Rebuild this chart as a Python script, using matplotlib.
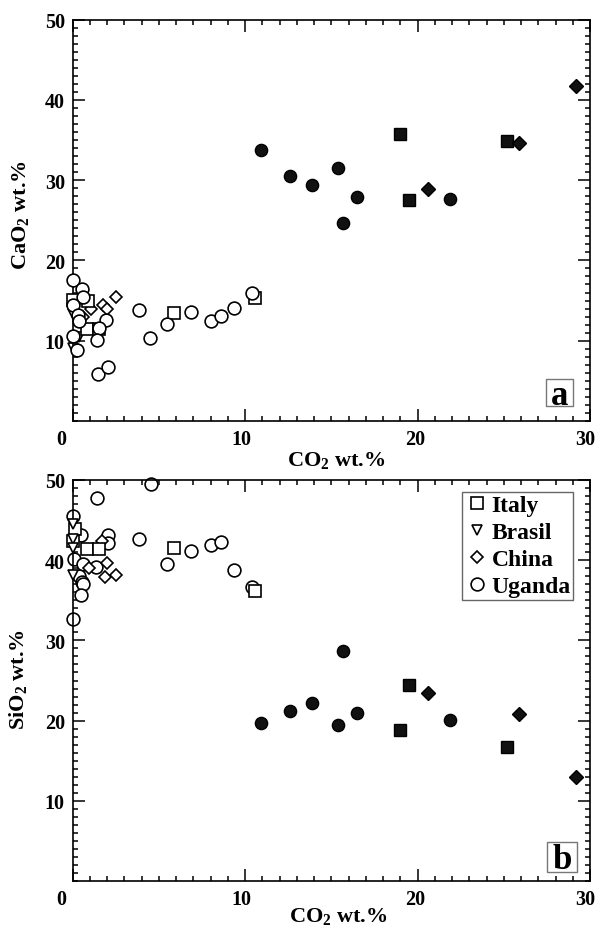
import matplotlib
matplotlib.use('Agg')
import matplotlib.pyplot as plt
from matplotlib.patches import Rectangle
from matplotlib.ticker import MultipleLocator
from matplotlib.transforms import ScaledTranslation

plt.rcParams['font.family'] = ['Liberation Serif', 'DejaVu Serif']
plt.rcParams['font.weight'] = 'bold'
plt.rcParams['mathtext.fontset'] = 'custom'
plt.rcParams['mathtext.rm'] = 'Liberation Serif:bold'
plt.rcParams['mathtext.default'] = 'rm'

# panel a: CaO2 vs CO2, open = low CO2 group, filled = high CO2 group
a_uganda_x = [0.05, 0.57, 0.63, 0.05, 1.94, 1.53, 0.05, 1.4, 0.28, 1.46, 2.04, 3.87, 4.5, 5.45, 6.86, 8.0, 8.6, 9.35, 10.4, 0.3, 0.4]
a_uganda_y = [17.5, 16.5, 15.5, 14.5, 12.6, 11.6, 10.6, 10.1, 8.8, 5.9, 6.7, 13.8, 10.3, 12.1, 13.6, 12.4, 13.1, 14.1, 15.9, 13.2, 12.5]
a_italy_x = [0.05, 0.92, 0.83, 1.55, 5.9, 10.6]
a_italy_y = [15.1, 14.9, 11.5, 11.5, 13.5, 15.3]
a_brasil_x = [0.05, 0.05, 0.4, 0.15]
a_brasil_y = [13.3, 9.1, 10.5, 14.0]
a_china_x = [2.5, 1.75, 2.0, 1.1, 0.6]
a_china_y = [15.4, 14.4, 13.9, 14.0, 13.0]
a_uganda_fx = [10.9, 12.6, 13.9, 15.4, 15.7, 16.5, 21.9]
a_uganda_fy = [33.7, 30.5, 29.4, 31.5, 24.6, 27.9, 27.6]
a_italy_fx = [19.0, 19.5, 25.2]
a_italy_fy = [35.7, 27.5, 34.9]
a_china_fx = [20.6, 25.9, 29.2]
a_china_fy = [28.9, 34.6, 41.7]

# panel b: SiO2 vs CO2
b_uganda_x = [4.55, 1.44, 0.05, 0.47, 2.04, 2.04, 3.87, 5.45, 6.86, 8.0, 8.6, 9.35, 10.4, 0.1, 0.63, 1.36, 0.4, 0.53, 0.63, 0.5, 0.05]
b_uganda_y = [49.5, 47.7, 45.5, 43.1, 43.1, 42.2, 42.6, 39.5, 41.2, 41.9, 42.3, 38.8, 36.7, 40.2, 39.5, 39.2, 38.0, 37.3, 37.0, 35.7, 32.7]
b_italy_x = [0.15, 0.05, 0.82, 1.55, 5.9, 10.6]
b_italy_y = [43.9, 42.4, 41.4, 41.4, 41.5, 36.2]
b_brasil_x = [0.05, 0.05, 0.05, 0.05]
b_brasil_y = [44.5, 42.6, 41.5, 38.2]
b_china_x = [1.73, 2.0, 1.9, 2.5, 0.95]
b_china_y = [42.4, 39.7, 37.9, 38.2, 39.0]
b_uganda_fx = [10.9, 12.6, 13.9, 15.4, 15.7, 16.5, 21.9]
b_uganda_fy = [19.7, 21.2, 22.2, 19.5, 28.7, 20.9, 20.1]
b_italy_fx = [19.0, 19.5, 25.2]
b_italy_fy = [18.8, 24.4, 16.7]
b_china_fx = [20.6, 25.9, 29.2]
b_china_fy = [23.4, 20.8, 13.0]

x_ticks = [0, 10, 20, 30]
y_ticks = [10, 20, 30, 40, 50]

W, H = 597, 928
fig = plt.figure(figsize=(W / 100, H / 100), dpi=100)


def make_axes(top, bottom):
    ax = fig.add_axes([72.5 / W, 1 - bottom / H, 517.5 / W, (bottom - top) / H])
    ax.set_xlim(0, 30)
    ax.set_ylim(0, 50)
    ax.set_xticks(x_ticks)
    ax.set_yticks(y_ticks)
    ax.xaxis.set_minor_locator(MultipleLocator(1))
    ax.yaxis.set_minor_locator(MultipleLocator(1))
    ax.tick_params(which='major', direction='in', length=8.5, width=1.1, top=True, right=True, labelsize=14.5)
    ax.tick_params(which='minor', direction='in', length=3.8, width=1.1, top=True, right=True)
    ax.tick_params(axis='x', which='major', pad=6)
    ax.tick_params(axis='y', which='major', pad=5.5)
    for s in ax.spines.values():
        s.set_linewidth(1.2)
    # the x labels sit a little left of their ticks in the original
    fig.canvas.draw()
    for lab, dx in zip(ax.get_xticklabels(), [-11, -4, -2, -5]):
        lab.set_transform(lab.get_transform() + ScaledTranslation(dx / 100, 0, fig.dpi_scale_trans))
    return ax


def open_pts(ax, x, y, marker, size, label, z):
    ax.plot(x, y, ls='none', marker=marker, ms=size, mfc='white', mec='black', mew=1.2,
            label=label, zorder=z, clip_on=False)


def filled_pts(ax, x, y, marker, size):
    ax.plot(x, y, ls='none', marker=marker, ms=size, mfc='#111111', mec='black', mew=1.0, zorder=5, clip_on=False)


def letter(ax, s, x0, y0, x1, y1):
    ax.add_patch(Rectangle((x0 / W, 1 - y1 / H), (x1 - x0) / W, (y1 - y0) / H, transform=fig.transFigure,
                           fc='white', ec='#777777', lw=1, zorder=6))
    ax.text((x0 + x1) / 2 / W, 1 - ((y0 + y1) / 2 - 1) / H, s, transform=fig.transFigure, fontsize=25,
            ha='center', va='center_baseline', zorder=7)


ax1 = make_axes(20.5, 422)
open_pts(ax1, a_brasil_x, a_brasil_y, 'v', 7.5, 'Brasil', 2)
open_pts(ax1, a_china_x, a_china_y, 'D', 6.5, 'China', 2.5)
open_pts(ax1, a_italy_x, a_italy_y, 's', 8.8, 'Italy', 3)
open_pts(ax1, a_uganda_x, a_uganda_y, 'o', 9.2, 'Uganda', 4)
filled_pts(ax1, a_uganda_fx, a_uganda_fy, 'o', 8.8)
filled_pts(ax1, a_italy_fx, a_italy_fy, 's', 8.8)
filled_pts(ax1, a_china_fx, a_china_fy, 'D', 6.8)
ax1.set_xlabel('CO$_2$ wt.%', fontsize=16, fontweight='bold')
ax1.xaxis.set_label_coords(0.509, -0.097)
ax1.xaxis.label.set_va('center')
ax1.set_ylabel('CaO$_2$ wt.%', fontsize=16, fontweight='bold')
ax1.yaxis.set_label_coords(-0.1, 0.515)
ax1.yaxis.label.set_va('center')
letter(ax1, 'a', 546, 380, 573, 407)

ax2 = make_axes(481, 882)
open_pts(ax2, b_uganda_x, b_uganda_y, 'o', 9.2, 'Uganda', 2)
open_pts(ax2, b_china_x, b_china_y, 'D', 6.5, 'China', 2.5)
open_pts(ax2, b_italy_x, b_italy_y, 's', 8.8, 'Italy', 3)
open_pts(ax2, b_brasil_x, b_brasil_y, 'v', 7.5, 'Brasil', 4)
filled_pts(ax2, b_uganda_fx, b_uganda_fy, 'o', 8.8)
filled_pts(ax2, b_italy_fx, b_italy_fy, 's', 8.8)
filled_pts(ax2, b_china_fx, b_china_fy, 'D', 6.8)
ax2.set_xlabel('CO$_2$ wt.%', fontsize=16, fontweight='bold')
ax2.xaxis.set_label_coords(0.513, -0.087)
ax2.xaxis.label.set_va('center')
ax2.set_ylabel('SiO$_2$ wt.%', fontsize=16, fontweight='bold')
ax2.yaxis.set_label_coords(-0.105, 0.505)
ax2.yaxis.label.set_va('center')
letter(ax2, 'b', 547, 843, 577, 873)

handles, labels = ax2.get_legend_handles_labels()
order = [labels.index(n) for n in ['Italy', 'Brasil', 'China', 'Uganda']]
leg = ax2.legend([handles[i] for i in order], [labels[i] for i in order],
                 loc='upper left', bbox_to_anchor=(462 / W, 1 - 493 / H), bbox_transform=fig.transFigure,
                 fontsize=17, frameon=True, fancybox=False, edgecolor='#666666', framealpha=1,
                 borderaxespad=0, borderpad=0.1, labelspacing=0.24, handletextpad=0.05, handlelength=1.1,
                 numpoints=1)
leg.get_frame().set_linewidth(1)
leg.set_zorder(8)

fig.savefig('out.png', dpi=100)
